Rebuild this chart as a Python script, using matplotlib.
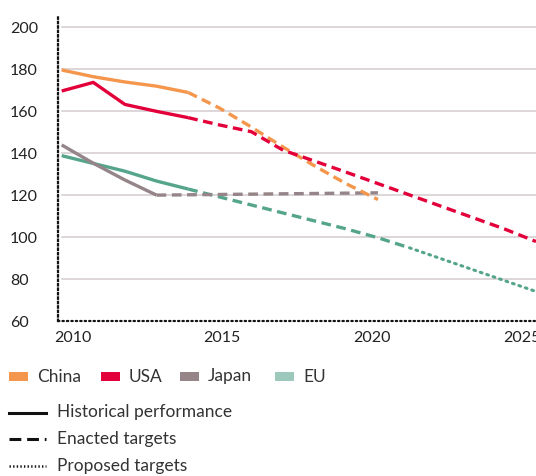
import matplotlib
matplotlib.use("Agg")
import matplotlib.pyplot as plt
from matplotlib.patches import Rectangle
from matplotlib.lines import Line2D

plt.rcParams['font.family'] = ['Lato', 'DejaVu Sans']
plt.rcParams['lines.scale_dashes'] = False

# ---------------- data ----------------
china_hist_years = [2010, 2011, 2012, 2013, 2014]
china_hist = [179.7, 176.5, 174.0, 172.0, 169.0]
china_enact_years = [2014, 2015, 2016, 2017, 2018, 2019, 2020]
china_enact = [169.0, 161.5, 152.5, 143.0, 134.0, 125.5, 118.0]

usa_hist_years = [2010, 2011, 2012, 2013, 2014]
usa_hist = [169.7, 173.8, 163.3, 160.0, 157.0]
usa_enact_years = [2014, 2015, 2016, 2017, 2018, 2019, 2020, 2021, 2022, 2023, 2024, 2025]
usa_enact = [157.0, 153.5, 150.3, 141.5, 136.3, 131.0, 125.6, 120.2, 114.8, 109.4, 104.0, 98.0]

japan_hist_years = [2010, 2011, 2012, 2013]
japan_hist = [144.0, 135.3, 127.3, 120.1]
japan_enact_years = [2013, 2020]
japan_enact = [120.1, 121.2]

eu_hist_years = [2010, 2011, 2012, 2013, 2014]
eu_hist = [138.9, 135.2, 131.5, 126.8, 123.0]
eu_enact_years = [2014, 2015, 2016, 2017, 2018, 2019, 2020, 2021]
eu_enact = [123.0, 119.2, 115.4, 111.6, 107.8, 104.0, 99.8, 95.0]
eu_prop_years = [2021, 2025]
eu_prop = [95.0, 74.2]

series_names = ['China', 'USA', 'Japan', 'EU']
line_colors = ['#F4964C', '#E3003A', '#958488', '#55A58C']
swatch_colors = ['#F4964C', '#E3003A', '#958488', '#9DC8BC']
style_labels = ['Historical performance', 'Enacted targets', 'Proposed targets']

y_ticks = [60, 80, 100, 120, 140, 160, 180, 200]
x_tick_labels = ['2010', '2015', '2020', '2025']
x_tick_pos = [2010.37, 2015.07, 2019.81, 2024.55]

# ---------------- figure ----------------
W, H = 536, 476
fig = plt.figure(figsize=(W / 100, H / 100), dpi=100)
ax_left, ax_right, ax_bottom, ax_top = 57.7, 536, 321.3, 15
ax = fig.add_axes([ax_left / W, 1 - ax_bottom / H, (ax_right - ax_left) / W, (ax_bottom - ax_top) / H])
ax.set_xlim(2009.874, 2025.0)
ax.set_ylim(60, 205.9)

# grid lines
for yv in y_ticks[1:]:
    ax.axhline(yv, xmin=(2010 - 2009.874) / (2025.0 - 2009.874), xmax=1, color='#D3CCCE', lw=1.1, zorder=0)

lw = 2.4
dash = (0, (7, 4))
dot = (0, (1.3, 3.6))

data = [
    (china_hist_years, china_hist, china_enact_years, china_enact, None, None),
    (usa_hist_years, usa_hist, usa_enact_years, usa_enact, None, None),
    (japan_hist_years, japan_hist, japan_enact_years, japan_enact, None, None),
    (eu_hist_years, eu_hist, eu_enact_years, eu_enact, eu_prop_years, eu_prop),
]
order = [3, 2, 0, 1]
for i in order:
    hx, hy, ex, ey, px, py = data[i]
    c = line_colors[i]
    ax.plot(hx, hy, color=c, lw=lw, solid_joinstyle='round', solid_capstyle='butt', zorder=3, clip_on=False)
    ax.plot(ex, ey, color=c, lw=lw, linestyle=dash, dash_capstyle='butt', zorder=3, clip_on=False)
    if px is not None:
        ax.plot(px, py, color=c, lw=2.2, linestyle=dot, dash_capstyle='round', zorder=3)

# axes styling
for s in ['top', 'right']:
    ax.spines[s].set_visible(False)
for s in ['left', 'bottom']:
    ax.spines[s].set_linestyle((0, (1, 2.2)))
    ax.spines[s].set_linewidth(1.6)
    ax.spines[s].set_color('#111111')
ax.spines['bottom'].set_capstyle('round')

ax.set_yticks(y_ticks)
ax.set_yticklabels([str(v) for v in y_ticks])
ax.tick_params(axis='y', length=0, pad=(ax_left - 10) * 0.72, labelsize=11.5, labelcolor='#222222')
for t in ax.get_yticklabels():
    t.set_horizontalalignment('left')

ax.set_xticks(x_tick_pos)
ax.set_xticklabels(x_tick_labels)
ax.tick_params(axis='x', length=0, pad=7, labelsize=11.5, labelcolor='#222222')
for t in ax.get_xticklabels():
    t.set_clip_on(False)

# ---------------- legend (pixel overlay) ----------------
ov = fig.add_axes([0, 0, 1, 1])
ov.set_xlim(0, W)
ov.set_ylim(H, 0)
ov.axis('off')
ov.patch.set_alpha(0)

sw_x = [9, 101, 180, 275]
for name, col, x0 in zip(series_names, swatch_colors, sw_x):
    ov.add_patch(Rectangle((x0, 371.5), 19, 9.5, color=col, lw=0))
    ov.text(x0 + 28, 376.5, name, fontsize=12.5, color='#333333', va='center', ha='left')

leg_styles = ['-', (0, (8.5, 4.2)), (0, (1, 1.6))]
leg_lw = [2.2, 2.2, 1.8]
leg_y = [412.5, 439, 465.5]
for lab, ls, lwv, yy in zip(style_labels, leg_styles, leg_lw, leg_y):
    ov.add_line(Line2D([9, 46], [yy, yy], color='#111111', lw=lwv, linestyle=ls, dash_capstyle='butt'))
    ov.text(57, yy, lab, fontsize=12.5, color='#333333', va='center', ha='left')

fig.savefig('out.png', dpi=100)
